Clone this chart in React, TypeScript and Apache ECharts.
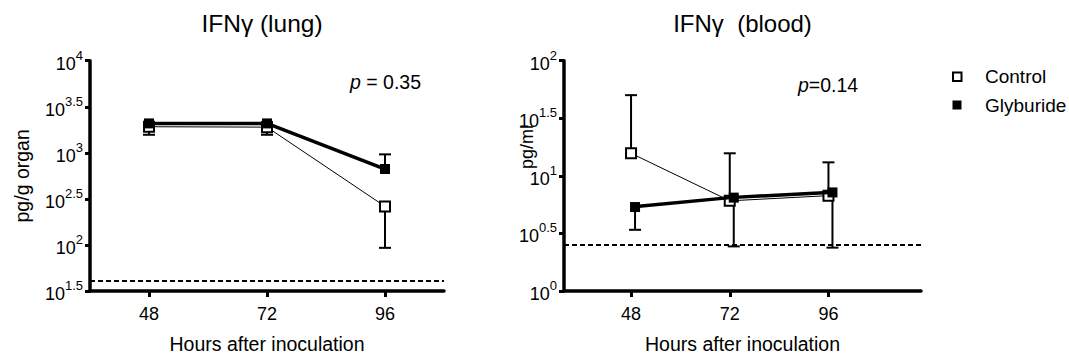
import React, { useEffect, useRef } from "react";
import * as echarts from "echarts";

// ---- data ----
const hours = [48, 72, 96];

// Lung IFN-gamma, pg/g organ
const lungControl = [1920, 1900, 262];
const lungControlErr = [1570, 1570, 93]; // end of error bar (lower)
const lungGlyburide = [2085, 2085, 667];
const lungGlyburideErr = [2150, 2150, 962]; // end of error bar (upper)
const lungLimit = 41; // detection limit

// Blood IFN-gamma, pg/ml
const bloodControl = [15.7, 6.07, 6.73];
const bloodControlErr = [50.2, 15.7, 13.1]; // upper
const bloodGlyburide = [5.36, 6.47, 7.18];
const bloodGlyburideErr = [3.4, 2.44, 2.38]; // lower
const bloodLimit = 2.49;

const lungExpRange = [1.5, 4];
const bloodExpRange = [0, 2];
const expStep = 0.5;

const FONT = '"Liberation Sans", Arial, Helvetica, sans-serif';

const lg = (v: number) => Math.log10(v);

function expLabel(v: number) {
  const e = Math.round(v * 10) / 10;
  const s = Number.isInteger(e) ? String(e) : e.toFixed(1);
  return `{b|10}{s|${s}}`;
}

const yRich = {
  b: { fontSize: 18, fontFamily: FONT, color: "#000", verticalAlign: "bottom", lineHeight: 24 },
  s: { fontSize: 13, fontFamily: FONT, color: "#000", verticalAlign: "top", lineHeight: 24 },
};

const AXIS_W = 3.5;

function makeX(gridIndex: number, min: number, max: number) {
  return {
    gridIndex,
    type: "value",
    min,
    max,
    axisLine: { show: true, onZero: false, lineStyle: { color: "#000", width: AXIS_W, opacity: 1 } },
    axisTick: { show: true, customValues: hours, length: 6, lineStyle: { color: "#000", width: 3, opacity: 1 } },
    axisLabel: { customValues: hours, fontSize: 18, fontFamily: FONT, color: "#000", margin: 14 },
    splitLine: { show: false },
    name: "Hours after inoculation",
    nameLocation: "middle",
    nameGap: 43,
    nameMoveOverlap: false,
    nameTextStyle: { fontSize: 19.5, fontFamily: FONT, color: "#000" },
  };
}

function makeY(gridIndex: number, range: number[], name: string, nameGap: number) {
  return {
    gridIndex,
    type: "value",
    min: range[0],
    max: range[1],
    interval: expStep,
    axisLine: { show: true, onZero: false, lineStyle: { color: "#000", width: AXIS_W, opacity: 1 } },
    axisTick: { show: true, length: 5, lineStyle: { color: "#000", width: 3, opacity: 1 } },
    axisLabel: { formatter: expLabel, rich: yRich, margin: 7 },
    splitLine: { show: false },
    name,
    nameLocation: "middle",
    nameGap,
    nameMoveOverlap: false,
    nameTextStyle: { fontSize: 19.5, fontFamily: FONT, color: "#000" },
  };
}

function errorBars(idx: number, mean: number[], end: number[], offset: number) {
  return {
    type: "custom",
    xAxisIndex: idx,
    yAxisIndex: idx,
    z: 1,
    silent: true,
    data: hours.map((h, i) => [h, lg(mean[i]), lg(end[i])]),
    encode: { x: 0, y: [1, 2] },
    renderItem: (params: any, api: any) => {
      const p0 = api.coord([api.value(0), api.value(1)]);
      const p1 = api.coord([api.value(0), api.value(2)]);
      const x = p0[0] + offset;
      return {
        type: "group",
        children: [
          { type: "line", shape: { x1: x, y1: p0[1], x2: x, y2: p1[1] }, style: { stroke: "#000", lineWidth: 2 } },
          { type: "line", shape: { x1: x - 6, y1: p1[1], x2: x + 6, y2: p1[1] }, style: { stroke: "#000", lineWidth: 2 } },
        ],
      };
    },
  };
}

function controlLine(idx: number, vals: number[], limit: number) {
  return {
    name: "Control",
    type: "line",
    xAxisIndex: idx,
    yAxisIndex: idx,
    z: 3,
    data: hours.map((h, i) => [h, lg(vals[i])]),
    symbol: "rect",
    symbolSize: 10,
    itemStyle: { color: "#fff", borderColor: "#000", borderWidth: 2 },
    lineStyle: { color: "#000", width: 1 },
    markLine: {
      silent: true,
      symbol: "none",
      label: { show: false },
      lineStyle: { color: "#000", width: 2, type: [5, 3] },
      data: [{ yAxis: lg(limit) }],
    },
  };
}

function glyLine(idx: number, vals: number[], offset: number) {
  return {
    name: "Glyburide",
    type: "line",
    xAxisIndex: idx,
    yAxisIndex: idx,
    z: 4,
    data: hours.map((h, i) => [h, lg(vals[i])]),
    symbol: "rect",
    symbolSize: 10,
    symbolOffset: [offset, 0],
    itemStyle: { color: "#000" },
    lineStyle: { color: "#000", width: 3.5 },
  };
}

function txt(x: number, y: number, text: string, fontSize: number, align = "left", rich?: any, rotation = 0) {
  return {
    type: "text",
    x,
    y,
    rotation,
    silent: true,
    style: {
      text,
      fontSize,
      fontFamily: FONT,
      fill: "#000",
      align,
      textAlign: align,
      verticalAlign: "middle",
      textVerticalAlign: "middle",
      rich,
    },
  };
}

export default function App() {
  const ref = useRef<HTMLDivElement>(null);
  useEffect(() => {
    if (!ref.current) return;
    const chart = echarts.init(ref.current, undefined, { renderer: "svg" });
    const pRich = { i: { fontStyle: "italic", fontSize: 19.5, fontFamily: FONT, color: "#000" } };
    chart.setOption({
      animation: false,
      backgroundColor: "#fff",
      textStyle: { fontFamily: FONT },
      grid: [
        { left: 90, top: 60.7, width: 354, height: 236 },
        { left: 564, top: 60.7, width: 357, height: 236 },
      ],
      xAxis: [makeX(0, 36, 108), makeX(1, 31.7, 118.5)],
      yAxis: [makeY(0, lungExpRange, "pg/g organ", 58), makeY(1, bloodExpRange, "", 30)],
      series: [
        errorBars(0, lungControl, lungControlErr, 0),
        errorBars(0, lungGlyburide, lungGlyburideErr, 0),
        controlLine(0, lungControl, lungLimit),
        glyLine(0, lungGlyburide, 0),
        errorBars(1, bloodControl, bloodControlErr, 0),
        errorBars(1, bloodGlyburide, bloodGlyburideErr, 4),
        controlLine(1, bloodControl, bloodLimit),
        glyLine(1, bloodGlyburide, 4),
      ],
      graphic: [
        txt(262, 23, "IFNγ (lung)", 24.5, "center"),
        txt(742.5, 23, "IFNγ  (blood)", 24, "center"),
        txt(350, 82, "{i|p} = 0.35", 19.5, "left", pRich),
        txt(798, 85, "{i|p}=0.14", 19.5, "left", pRich),
        txt(527, 147, "pg/ml", 18, "center", undefined, Math.PI / 2),
        {
          type: "rect",
          shape: { x: 953, y: 72.5, width: 8.5, height: 8.5 },
          style: { fill: "#fff", stroke: "#000", lineWidth: 2 },
        },
        txt(985, 76.7, "Control", 19),
        {
          type: "rect",
          shape: { x: 952.5, y: 100.5, width: 9, height: 9 },
          style: { fill: "#000" },
        },
        txt(985, 105, "Glyburide", 19),
      ],
    });
    return () => chart.dispose();
  }, []);
  return (
    <div
      ref={ref}
      style={{ position: "absolute", left: 0, top: 0, width: 1069, height: 359, background: "#fff" }}
    />
  );
}
